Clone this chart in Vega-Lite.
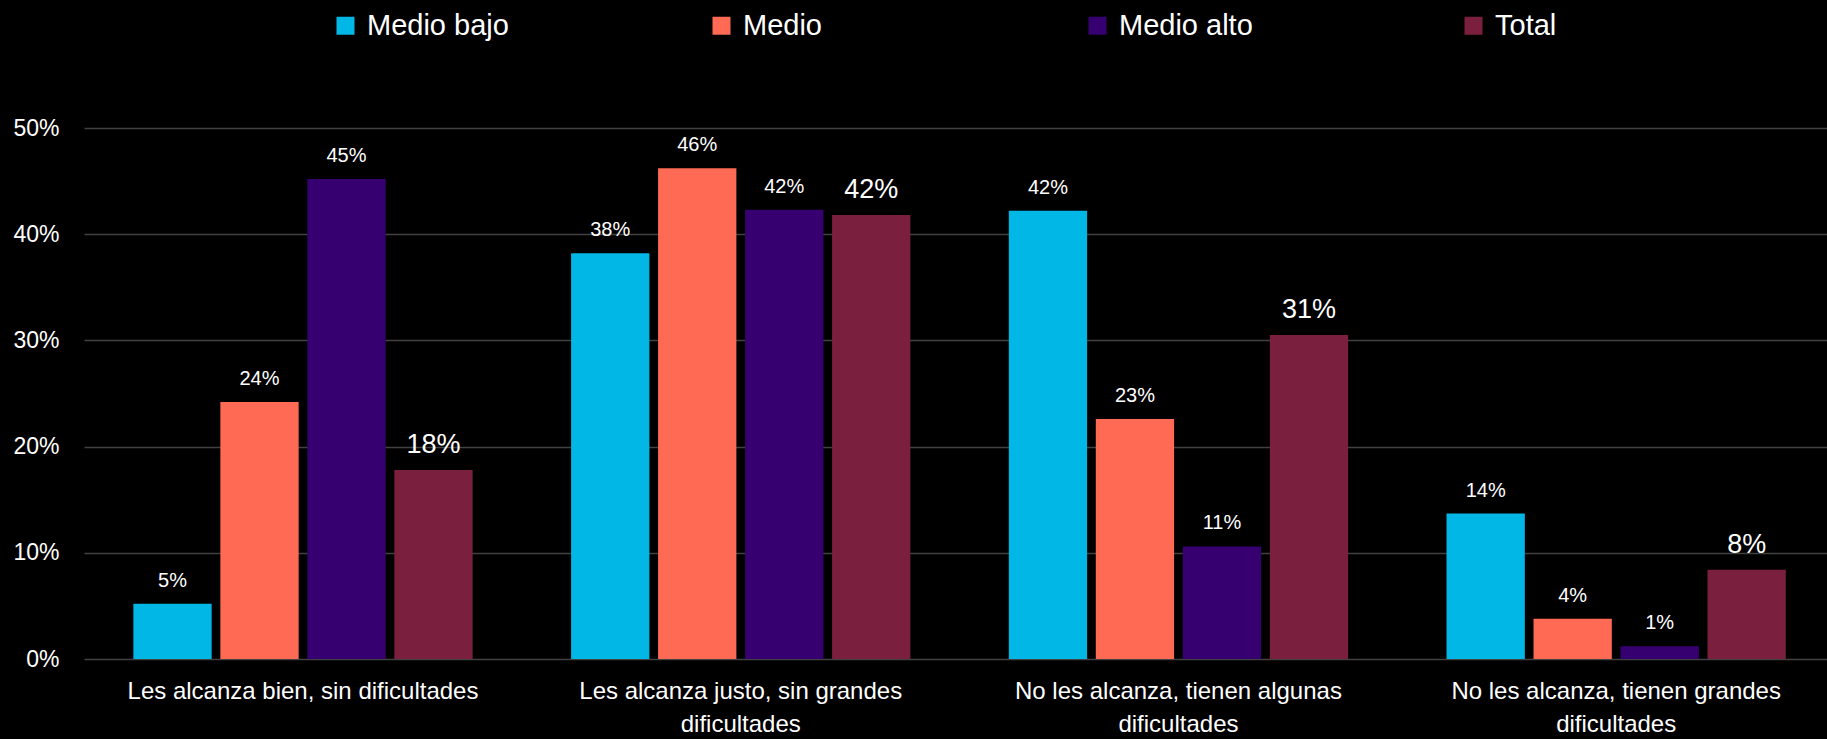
{
  "$schema": "https://vega.github.io/schema/vega-lite/v6.json",
  "width": 1743,
  "height": 531,
  "autosize": {"type": "none"},
  "padding": {"left": 84, "top": 128, "right": 0, "bottom": 80},
  "background": "#000000",
  "config": {
    "view": {"stroke": null},
    "font": "Liberation Sans",
    "text": {"color": "#FFFFFF"}
  },
  "data": {
    "values": [
      {"categoria": "Les alcanza bien, sin dificultades", "nivel": "Medio bajo", "valor": 0.052},
      {"categoria": "Les alcanza bien, sin dificultades", "nivel": "Medio", "valor": 0.242},
      {"categoria": "Les alcanza bien, sin dificultades", "nivel": "Medio alto", "valor": 0.452},
      {"categoria": "Les alcanza bien, sin dificultades", "nivel": "Total", "valor": 0.178},
      {"categoria": "Les alcanza justo, sin grandes dificultades", "nivel": "Medio bajo", "valor": 0.382},
      {"categoria": "Les alcanza justo, sin grandes dificultades", "nivel": "Medio", "valor": 0.462},
      {"categoria": "Les alcanza justo, sin grandes dificultades", "nivel": "Medio alto", "valor": 0.423},
      {"categoria": "Les alcanza justo, sin grandes dificultades", "nivel": "Total", "valor": 0.418},
      {"categoria": "No les alcanza, tienen algunas dificultades", "nivel": "Medio bajo", "valor": 0.422},
      {"categoria": "No les alcanza, tienen algunas dificultades", "nivel": "Medio", "valor": 0.226},
      {"categoria": "No les alcanza, tienen algunas dificultades", "nivel": "Medio alto", "valor": 0.106},
      {"categoria": "No les alcanza, tienen algunas dificultades", "nivel": "Total", "valor": 0.305},
      {"categoria": "No les alcanza, tienen grandes dificultades", "nivel": "Medio bajo", "valor": 0.137},
      {"categoria": "No les alcanza, tienen grandes dificultades", "nivel": "Medio", "valor": 0.038},
      {"categoria": "No les alcanza, tienen grandes dificultades", "nivel": "Medio alto", "valor": 0.012},
      {"categoria": "No les alcanza, tienen grandes dificultades", "nivel": "Total", "valor": 0.084}
    ]
  },
  "encoding": {
    "x": {
      "field": "categoria",
      "type": "nominal",
      "sort": null,
      "scale": {"paddingInner": 0.205, "paddingOuter": 0.0935, "align": 0.55},
      "axis": {
        "title": null,
        "labelAngle": 0,
        "domain": false,
        "ticks": false,
        "labelPadding": 20,
        "labelFontSize": 24,
        "labelLineHeight": 33,
        "labelColor": "#FFFFFF",
        "labelLimit": 600,
        "labelExpr": "datum.value == 'Les alcanza justo, sin grandes dificultades' ? ['Les alcanza justo, sin grandes', 'dificultades'] : datum.value == 'No les alcanza, tienen algunas dificultades' ? ['No les alcanza, tienen algunas', 'dificultades'] : datum.value == 'No les alcanza, tienen grandes dificultades' ? ['No les alcanza, tienen grandes', 'dificultades'] : datum.value"
      }
    },
    "xOffset": {
      "field": "nivel",
      "type": "nominal",
      "sort": ["Medio bajo", "Medio", "Medio alto", "Total"],
      "scale": {"paddingInner": 0.1, "paddingOuter": 0.05}
    },
    "y": {
      "field": "valor",
      "type": "quantitative",
      "scale": {"domain": [0, 0.5]},
      "axis": {
        "title": null,
        "values": [0, 0.1, 0.2, 0.3, 0.4, 0.5],
        "format": ".0%",
        "domain": false,
        "ticks": false,
        "labelPadding": 25,
        "labelFontSize": 23,
        "labelColor": "#FFFFFF",
        "gridColor": "#414141",
        "gridWidth": 1.5
      }
    }
  },
  "layer": [
    {
      "mark": {"type": "bar"},
      "encoding": {
        "color": {
          "field": "nivel",
          "type": "nominal",
          "sort": ["Medio bajo", "Medio", "Medio alto", "Total"],
          "scale": {
            "domain": ["Medio bajo", "Medio", "Medio alto", "Total"],
            "range": ["#00B7E6", "#FF6A55", "#370070", "#7B1F3E"]
          },
          "legend": {
            "title": null,
            "orient": "none",
            "legendX": 247,
            "legendY": -117,
            "direction": "horizontal",
            "columns": 4,
            "gridAlign": "all",
            "columnPadding": 198,
            "symbolType": "square",
            "symbolSize": 324,
            "symbolStrokeWidth": 0,
            "labelFontSize": 29,
            "labelColor": "#FFFFFF",
            "labelOffset": 7,
            "labelLimit": 300
          }
        }
      }
    },
    {
      "mark": {"type": "text", "baseline": "alphabetic", "dy": -17, "color": "#FFFFFF"},
      "encoding": {
        "text": {"field": "valor", "type": "quantitative", "format": ".0%"},
        "size": {
          "condition": {"test": "datum.nivel == 'Total'", "value": 27},
          "value": 20
        }
      }
    }
  ]
}
